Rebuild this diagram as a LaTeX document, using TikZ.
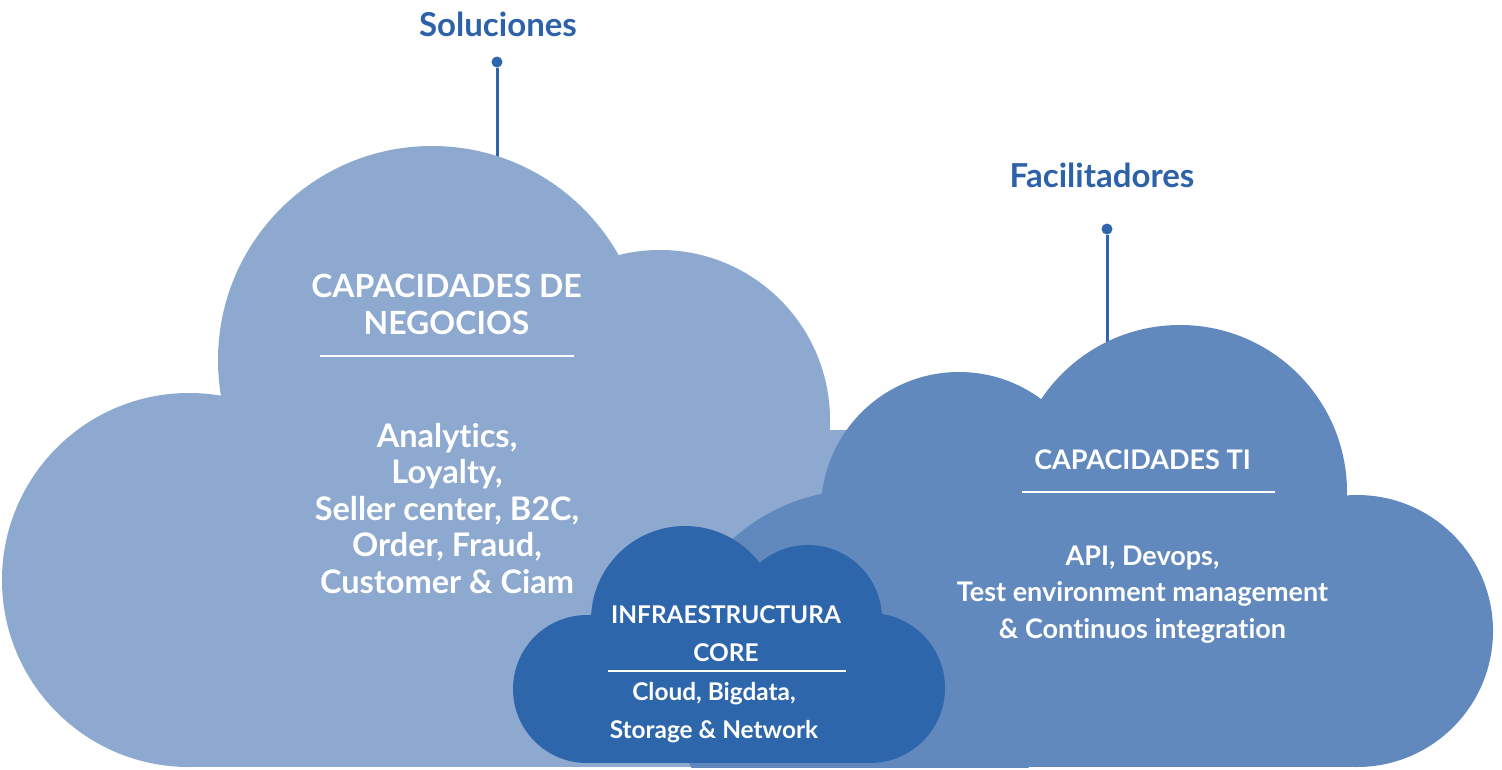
\documentclass[tikz,border=0pt]{standalone}
\usepackage{fontspec}
\setmainfont{Lato}[Ligatures=NoCommon]
\definecolor{cloudA}{HTML}{8DA9CF}
\definecolor{cloudB}{HTML}{6189BD}
\definecolor{cloudC}{HTML}{2D66AB}
\definecolor{titleblue}{HTML}{2D62A9}
\definecolor{connblue}{HTML}{2E65AD}
\begin{document}
\begin{tikzpicture}[x=1pt,y=-1pt,
  title/.style={font=\fontsize{33}{38}\selectfont\bfseries, text=titleblue, inner sep=0pt, anchor=base},
  pin dot/.style={circle, fill=connblue, inner sep=0pt, minimum size=11pt},
  pin line/.style={draw=connblue, line width=3pt},
  bigtitle/.style={font=\fontsize{32}{37}\selectfont\bfseries, text=white, align=center, inner sep=0pt, anchor=base},
  bigtext/.style={font=\fontsize{32.5}{36.5}\selectfont\bfseries, text=white, align=center, inner sep=0pt, anchor=base},
  midtext/.style={font=\fontsize{27}{36.5}\selectfont\bfseries, text=white, align=center, inner sep=0pt, anchor=base},
  smalltext/.style={font=\fontsize{24.4}{38}\selectfont\bfseries, text=white, align=center, inner sep=0pt, anchor=base},
  sepline/.style={draw=white, line width=2pt}
]
\useasboundingbox (0,0) rectangle (1502,769);
\fill[white] (0,0) rectangle (1502,769);

% titles and pins
\node[title] (soluciones) at (498,36) {Soluciones};
\node[pin dot] (soldot) at (497,62) {};
\coordinate (soltop) at (497,175);
\draw[pin line] (soldot) -- (soltop);

\node[title] (facilitadores) at (1102,187) {Facilitadores};
\node[pin dot] (facdot) at (1107,229) {};
\coordinate (factop) at (1107,360);
\draw[pin line] (facdot) -- (factop);

\begin{scope}
\clip (0,0) rectangle (1502,767);
% big cloud (negocios)
\fill[cloudA] (432,360) circle[radius=214pt];
\fill[cloudA] (660,420) circle[radius=170pt];
\fill[cloudA] (189,580) circle[radius=187pt];
\fill[cloudA] (189,430) rectangle (860,767);
% right cloud (TI)
\fill[cloudB] (959,510) circle[radius=138pt];
\fill[cloudB] (1180,492) circle[radius=167pt];
\fill[cloudB] (1357,631) circle[radius=136pt];
\fill[cloudB] (860,680) circle[radius=190pt];
\fill[cloudB] (860,500) rectangle (1357,767);
% small cloud (core)
\fill[cloudC] (685,620) circle[radius=94pt];
\fill[cloudC] (808,619) circle[radius=74pt];
\fill[cloudC] (870,688) circle[radius=75pt];
\fill[cloudC] (587,689) circle[radius=74pt];
\fill[cloudC] (587,650) rectangle (870,763);
\end{scope}

% big cloud text
\node[bigtitle] (negtitle) at (446.5,334) {CAPACIDADES DE\\NEGOCIOS};
\draw[sepline] (320,356) -- (574,356);
\node[bigtext] (negbody) at (447,593) {Analytics,\\Loyalty,\\Seller center, B2C,\\Order, Fraud,\\Customer \& Ciam};

% right cloud text
\node[midtext] (tititle) at (1142.5,469) {CAPACIDADES TI};
\draw[sepline] (1022,492) -- (1275,492);
\node[midtext] (tibody) at (1142.5,638) {API, Devops,\\Test environment management\\\& Continuos integration};

% small cloud text
\node[smalltext] (coretitle) at (726,661) {INFRAESTRUCTURA\\CORE};
\draw[sepline] (608,671) -- (846,671);
\node[smalltext] (corebody) at (714,738) {Cloud, Bigdata,\\Storage \& Network};
\end{tikzpicture}
\end{document}
